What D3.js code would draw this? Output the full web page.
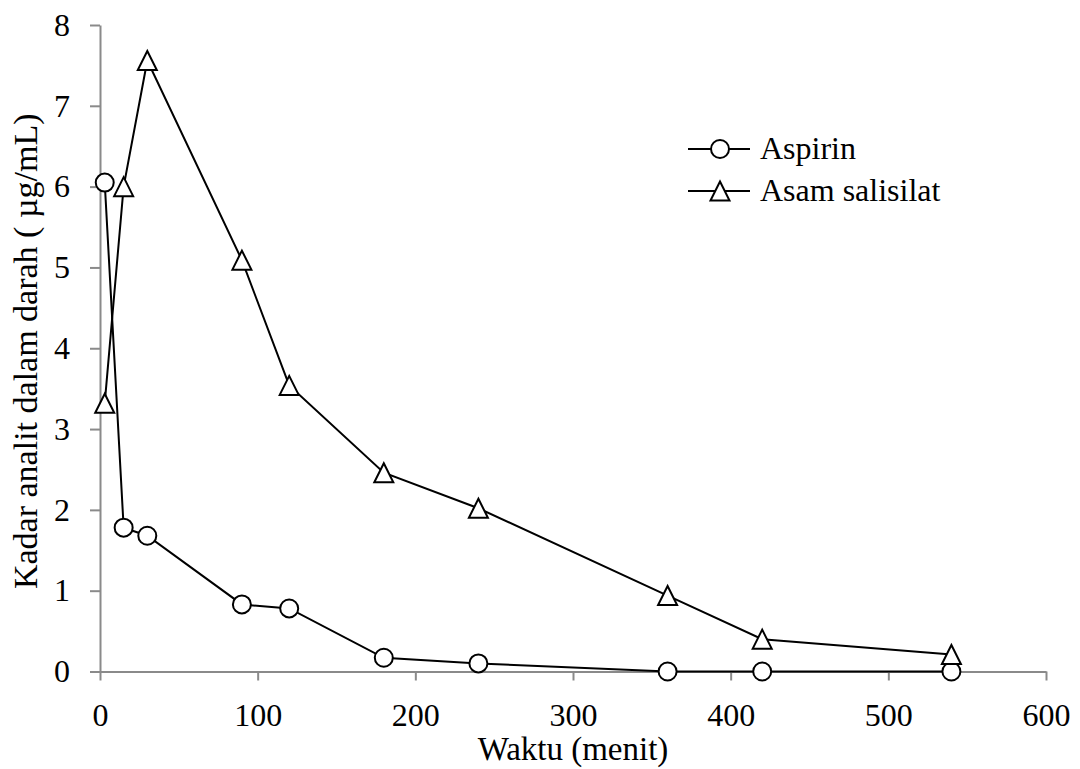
<!DOCTYPE html>
<html>
<head>
<meta charset="utf-8">
<script src="https://cdn.jsdelivr.net/npm/d3@7"></script>
<style>
  body { margin: 0; background: #fff; }
</style>
</head>
<body>
<svg id="chart" width="1080" height="769"></svg>
<script>
// data
const waktu = [3, 15, 30, 90, 120, 180, 240, 360, 420, 540];
const aspirin = [6.05, 1.78, 1.68, 0.83, 0.78, 0.17, 0.1, 0, 0, 0];
const asamSalisilat = [3.32, 6.0, 7.56, 5.09, 3.54, 2.46, 2.02, 0.94, 0.4, 0.21];
const xTicks = [0, 100, 200, 300, 400, 500, 600];
const yTicks = [0, 1, 2, 3, 4, 5, 6, 7, 8];

const series = [
  { name: 'Aspirin', values: aspirin, marker: 'circle' },
  { name: 'Asam salisilat', values: asamSalisilat, marker: 'triangle' }
];

const FONT = "'Liberation Serif'";
const svg = d3.select('#chart');
const x = d3.scaleLinear().domain([0, 600]).range([100, 1046]);
const y = d3.scaleLinear().domain([0, 8]).range([671.5, 25]);
const axisColor = '#8a8a8a';

// axes
const xAxis = svg.append('g')
  .attr('transform', `translate(0,${y(0)})`)
  .call(d3.axisBottom(x).tickValues(xTicks).tickSize(9).tickSizeOuter(0));
const yAxis = svg.append('g')
  .attr('transform', `translate(${x(0)},0)`)
  .call(d3.axisLeft(y).tickValues(yTicks).tickSize(10).tickSizeOuter(0).tickPadding(20));

[xAxis, yAxis].forEach(a => {
  a.select('.domain').attr('stroke', axisColor).attr('stroke-width', 2);
  a.selectAll('.tick line').attr('stroke', axisColor).attr('stroke-width', 2);
  a.selectAll('.tick text')
    .attr('fill', '#000')
    .style('font-family', FONT)
    .style('font-size', '32px');
});
xAxis.selectAll('.tick text').attr('y', 32).attr('dy', '0.71em');

// axis titles
svg.append('text')
  .attr('x', x(300)).attr('y', 760)
  .attr('text-anchor', 'middle')
  .style('font-family', FONT).style('font-size', '33px')
  .text('Waktu (menit)');
svg.append('text')
  .attr('transform', `translate(37,${y(4) + 3}) rotate(-90)`)
  .attr('text-anchor', 'middle')
  .style('font-family', FONT).style('font-size', '34px')
  .text('Kadar analit dalam darah ( µg/mL)');

const line = d3.line().x(d => x(d[0])).y(d => y(d[1]));
const triPath = 'M0,-9.5L9.5,9.5L-9.5,9.5Z';

function drawMarker(g, type, cx, cy) {
  if (type === 'circle') {
    g.append('circle').attr('cx', cx).attr('cy', cy).attr('r', 9)
      .attr('fill', '#fff').attr('stroke', '#000').attr('stroke-width', 2);
  } else {
    g.append('path').attr('d', triPath)
      .attr('transform', `translate(${cx},${cy})`)
      .attr('fill', '#fff').attr('stroke', '#000').attr('stroke-width', 2);
  }
}

series.forEach(s => {
  const pts = waktu.map((t, i) => [t, s.values[i]]);
  const g = svg.append('g');
  g.append('path').datum(pts)
    .attr('d', line)
    .attr('fill', 'none').attr('stroke', '#000').attr('stroke-width', 2);
  pts.forEach(p => drawMarker(g, s.marker, x(p[0]), y(p[1])));
});

// legend
const legend = svg.append('g');
series.forEach((s, i) => {
  const ly = 149 + i * 42;
  legend.append('line').attr('x1', 688).attr('x2', 750).attr('y1', ly).attr('y2', ly)
    .attr('stroke', '#000').attr('stroke-width', 2);
  drawMarker(legend, s.marker, 720, ly);
  legend.append('text').attr('x', 760).attr('y', ly + 10)
    .style('font-family', FONT).style('font-size', '32px')
    .text(s.name);
});
</script>
</body>
</html>
